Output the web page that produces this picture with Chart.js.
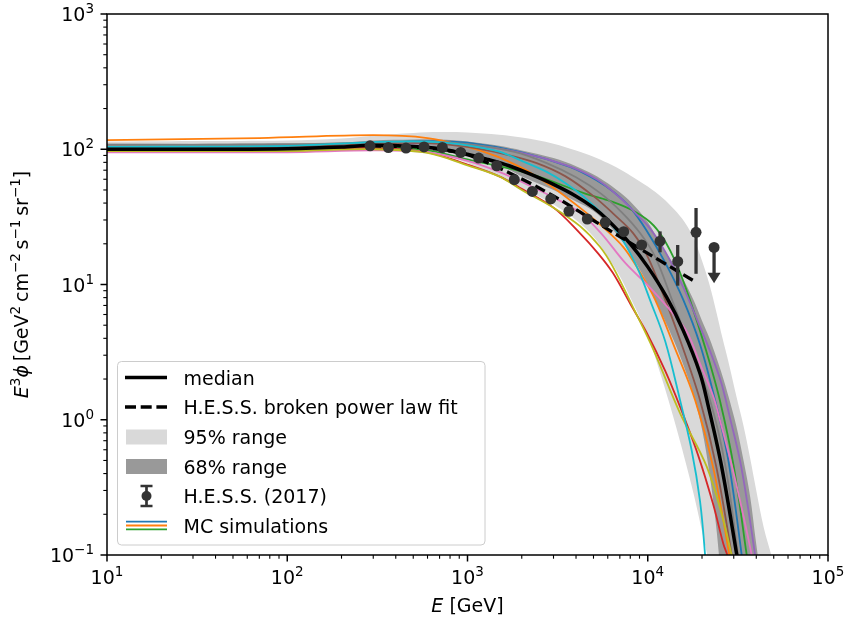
<!DOCTYPE html>
<html>
<head>
<meta charset="utf-8">
<script src="https://cdn.jsdelivr.net/npm/chart.js@4.4.1/dist/chart.umd.min.js"></script>
<style>
  html, body { margin: 0; background: #fff; }
  canvas { display: block; }
</style>
</head>
<body>
<canvas id="chart" width="850" height="621"></canvas>
<script>
// energy grid shared by the two percentile bands [GeV]
const bandE = [10, 30, 100, 200, 300, 500, 700, 1000, 1500, 2000, 3000, 4000, 5000, 6000, 7000, 8000,
  10000, 12000, 14000, 16000, 18000, 20000, 22000, 24000, 26000, 28000, 31000, 34000, 37000, 40000, 44000, 50000, 56000];
const hi95 = [114, 115, 116, 120, 126, 132, 134, 133, 128, 122, 110, 98, 88, 79, 71, 64,
  53, 44, 36, 29, 22, 15, 10, 6.3, 4.0, 2.7, 1.5, 0.9, 0.52, 0.3, 0.16, 0.085, 0.04];
const lo95 = [96, 96, 96, 97, 99, 97, 92, 79, 63, 52, 39, 30, 22.5, 16, 11.5, 8,
  4.2, 2.0, 1.0, 0.52, 0.28, 0.15, 0.085, 0.05, 0.03, 0.02, 0.01, 0.01, 0.01, 0.01, 0.01, 0.01, 0.01];
const hi68 = [110, 110, 111, 112, 116, 118, 118, 114, 106, 98, 86, 75, 65, 56, 48, 41,
  29, 19, 14, 10.5, 7.6, 5.4, 4.0, 2.9, 2.1, 1.5, 0.9, 0.5, 0.27, 0.12, 0.05, 0.02, 0.01];
const lo68 = [100, 100, 100, 102, 104, 102, 97, 88, 76, 63, 50, 41, 35, 28, 22, 17,
  10, 6.0, 3.8, 2.4, 1.5, 0.85, 0.4, 0.16, 0.05, 0.02, 0.01, 0.01, 0.01, 0.01, 0.01, 0.01, 0.01];

// median of the simulations
const medianE = [10, 20, 50, 100, 200, 300, 500, 700, 1000, 1300, 1700, 2200, 3000, 4000, 5000, 6000, 8000,
  10000, 12700, 15700, 19500, 21700, 25700, 31200, 34000];
const medianF = [100, 100, 100, 101, 104, 107, 105, 101, 92, 84, 75.5, 66, 55, 45, 37, 30, 20,
  13.5, 8.1, 4.6, 2.2, 1.25, 0.45, 0.1, 0.05];

// H.E.S.S. broken power law
const fitE = [288, 400, 600, 800, 1000, 1300, 1700, 2200, 2800, 3400, 5200, 8000, 12000, 18300];
const fitF = [106, 105, 102, 97, 91, 79, 67, 56.5, 47.5, 41, 28.8, 20.3, 14.7, 10.5];

// H.E.S.S. (2017) points, last one is an upper limit
const hessE = [288, 364, 456, 574, 725, 917, 1154, 1452, 1819, 2290, 2896, 3656, 4620, 5809, 7354, 9250, 11700, 14660, 18530, 23330];
const hessF = [106, 103, 102, 104, 103, 94.7, 86, 75.5, 59.6, 48.8, 42.9, 34.8, 30.5, 28.8, 24.6, 19.6, 20.9, 14.8, 24.3, 18.8];
const hessHi = [110, 107, 106, 108, 107, 98.5, 89.4, 78.5, 62, 50.8, 44.6, 36.2, 31.7, 30.2, 26, 20.9, 24.7, 19.6, 36.8, 18.8];
const hessLo = [102, 99, 98, 100, 99, 91, 82.6, 72.5, 57.2, 46.8, 41.2, 33.4, 29.3, 27.4, 23.2, 18.3, 17.3, 9.8, 12.0, 10.2];
const hessUL = [false, false, false, false, false, false, false, false, false, false,
  false, false, false, false, false, false, false, false, false, true];

// individual MC realisations
const mcBlueE = [10, 100, 300, 600, 1000, 2000, 3700, 5200, 6500, 8000, 9865, 12500, 15750, 19500, 23610, 28000, 33210, 36000];
const mcBlueF = [104, 105, 111, 115, 112, 95, 74, 59, 48, 37, 25, 14.5, 7.7, 3.6, 1.4, 0.5, 0.1, 0.04];
const mcOrangeE = [10, 70, 300, 600, 1000, 1400, 1800, 2200, 3000, 4200, 5400, 7300, 9000, 11000, 14000, 18300, 23000, 28350, 30500];
const mcOrangeF = [117, 121, 127, 121, 104, 90, 78, 68, 52, 37, 28, 19, 12.5, 7.7, 3.5, 1.4, 0.45, 0.1, 0.05];
const mcGreenE = [10, 100, 300, 600, 1000, 2200, 4500, 6000, 8000, 10290, 12190, 14500, 17140, 21000, 25100, 30000, 35400, 38000];
const mcGreenF = [101, 101, 104, 98, 84, 66, 47, 42, 36, 29, 22, 14, 7.7, 3.3, 1.4, 0.45, 0.1, 0.05];
const mcRedE = [10, 100, 300, 600, 1000, 1500, 2000, 3000, 4200, 5300, 6400, 8000, 9865, 12500, 15100, 19000, 23000, 26300, 27600, 30000];
const mcRedF = [100, 100, 102, 95, 77, 63, 51, 37, 24, 17, 12.2, 7.2, 4.4, 2.3, 1.25, 0.55, 0.24, 0.12, 0.1, 0.06];
const mcPurpleE = [10, 100, 300, 600, 1000, 2000, 3550, 5200, 7000, 8500, 10290, 12500, 15700, 19000, 22200, 25500, 28500, 33000, 39400, 42000];
const mcPurpleF = [102, 103, 108, 111, 108, 94, 76, 60, 44, 34, 26, 17.5, 9.6, 5.3, 3.2, 1.9, 1.05, 0.45, 0.1, 0.05];
const mcBrownE = [10, 100, 300, 600, 1000, 1600, 2420, 3500, 5000, 6500, 8290, 10000, 12500, 15000, 19490, 24000, 29230, 31500];
const mcBrownF = [103, 104, 110, 111, 104, 92, 79, 63, 45, 33, 24, 16, 7.7, 4.0, 1.4, 0.45, 0.1, 0.05];
const mcPinkE = [10, 100, 300, 600, 1000, 1500, 2200, 3000, 4200, 5500, 7480, 10290, 13270, 16440, 19490, 23120, 25100, 30000, 37730, 40000];
const mcPinkF = [95, 95, 98, 95, 82, 68, 54, 44, 34, 24, 14.5, 9.5, 6.5, 4.5, 2.6, 1.48, 1.0, 0.4, 0.1, 0.06];
const mcGrayE = [10, 100, 300, 600, 1000, 1800, 2750, 4000, 5500, 7200, 9060, 11000, 13630, 17000, 22140, 27000, 31680, 34000];
const mcGrayF = [108, 108, 112, 114, 109, 96, 79, 62, 47, 34, 24, 16, 7.7, 3.6, 1.4, 0.45, 0.1, 0.05];
const mcOliveE = [10, 100, 300, 600, 1000, 1500, 2000, 3000, 4210, 5430, 6410, 8280, 10740, 15100, 21240, 26300, 29200, 32000];
const mcOliveF = [97, 97, 100, 94, 76, 63, 50, 37, 27, 19, 13.5, 6.8, 3.3, 1.12, 0.45, 0.18, 0.1, 0.06];
const mcCyanE = [10, 100, 300, 600, 1000, 1500, 2000, 2750, 3500, 4560, 6000, 7000, 8000, 9060, 10290, 12500, 15100, 17500, 19500, 20800, 21500];
const mcCyanF = [104, 106, 113, 114, 107, 96, 82, 68, 56, 43, 30, 23, 17, 12, 7.7, 3.8, 1.4, 0.6, 0.25, 0.1, 0.05];

const mcRuns = [
  [mcBlueE, mcBlueF, '#1f77b4'],
  [mcOrangeE, mcOrangeF, '#ff7f0e'],
  [mcGreenE, mcGreenF, '#2ca02c'],
  [mcRedE, mcRedF, '#d62728'],
  [mcPurpleE, mcPurpleF, '#9467bd'],
  [mcBrownE, mcBrownF, '#8c564b'],
  [mcPinkE, mcPinkF, '#e377c2'],
  [mcGrayE, mcGrayF, '#7f7f7f'],
  [mcOliveE, mcOliveF, '#bcbd22'],
  [mcCyanE, mcCyanF, '#17becf'],
];

const LIGHT = '#d9d9d9';
const DARK = '#999999';
const HESS_COLOR = '#333333';
const FONT = '"DejaVu Sans", sans-serif';

const pts = (xs, ys) => xs.map((v, i) => ({ x: v, y: ys[i] }));

const datasets = [
  { data: pts(bandE, lo95), borderWidth: 0, pointRadius: 0, order: 41 },
  { data: pts(bandE, hi95), borderWidth: 0, pointRadius: 0, fill: 0, backgroundColor: LIGHT, order: 40 },
  { data: pts(bandE, lo68), borderWidth: 0, pointRadius: 0, order: 31 },
  { data: pts(bandE, hi68), borderWidth: 0, pointRadius: 0, fill: 2, backgroundColor: DARK, order: 30 },
];
mcRuns.forEach(([e, f, c], i) => {
  datasets.push({ data: pts(e, f), borderColor: c, borderWidth: 1.8, pointRadius: 0, order: 20 - i });
});
datasets.push({ data: pts(medianE, medianF), borderColor: '#000', borderWidth: 3.5, pointRadius: 0, order: 5 });
datasets.push({ data: pts(fitE, fitF), borderColor: '#000', borderWidth: 3.3, borderDash: [11, 4.7], pointRadius: 0, order: 4 });
const HESS_INDEX = datasets.length;
datasets.push({
  data: pts(hessE, hessF), showLine: false, pointRadius: 5.5, pointBorderWidth: 0,
  pointBackgroundColor: HESS_COLOR, order: 0
});

// error bars and the upper-limit arrow, drawn just under the markers
const hessBars = {
  id: 'hessBars',
  beforeDatasetDraw(chart, args) {
    if (args.index !== HESS_INDEX) return;
    const { ctx, scales: { x, y } } = chart;
    ctx.save();
    ctx.strokeStyle = HESS_COLOR;
    ctx.fillStyle = HESS_COLOR;
    ctx.lineWidth = 3.3;
    hessE.forEach((e, i) => {
      const px = x.getPixelForValue(e);
      const pLo = y.getPixelForValue(hessLo[i]);
      if (hessUL[i]) {
        const p0 = y.getPixelForValue(hessF[i]);
        ctx.beginPath(); ctx.moveTo(px, p0); ctx.lineTo(px, pLo - 9); ctx.stroke();
        ctx.beginPath();
        ctx.moveTo(px - 6.5, pLo - 10.5); ctx.lineTo(px + 6.5, pLo - 10.5); ctx.lineTo(px, pLo);
        ctx.closePath(); ctx.fill();
      } else {
        const pHi = y.getPixelForValue(hessHi[i]);
        ctx.beginPath(); ctx.moveTo(px, pHi); ctx.lineTo(px, pLo); ctx.stroke();
      }
    });
    ctx.restore();
  }
};

// draws 10^exp with a raised exponent
function drawPow(ctx, exp, xPos, yBase, align) {
  const base = '10';
  const sup = String(exp).replace('-', '\u2212');
  ctx.font = '19px ' + FONT;
  const wb = ctx.measureText(base).width;
  ctx.font = '13.5px ' + FONT;
  const ws = ctx.measureText(sup).width;
  const x0 = align === 'center' ? xPos - (wb + ws) / 2 : xPos - (wb + ws);
  ctx.font = '19px ' + FONT;
  ctx.fillText(base, x0, yBase);
  ctx.font = '13.5px ' + FONT;
  ctx.fillText(sup, x0 + wb, yBase - 8);
}

// text made of runs [string, font, rise], centred on cx
function drawRuns(ctx, runs, cx, yBase) {
  let total = 0;
  runs.forEach(r => { ctx.font = r[1]; total += ctx.measureText(r[0]).width; });
  let xp = cx - total / 2;
  runs.forEach(r => {
    ctx.font = r[1];
    ctx.fillText(r[0], xp, yBase - (r[2] || 0));
    xp += ctx.measureText(r[0]).width;
  });
}

const frameAndText = {
  id: 'frameAndText',
  afterDraw(chart) {
    const { ctx, chartArea: a, scales: { x, y } } = chart;
    ctx.save();
    ctx.strokeStyle = '#000';
    ctx.fillStyle = '#000';
    ctx.textAlign = 'left';
    ctx.textBaseline = 'alphabetic';

    // ticks
    for (let d = 1; d <= 5; d++) {
      for (let k = 1; k <= 9; k++) {
        const v = k * Math.pow(10, d);
        if (v > 1e5) break;
        const px = x.getPixelForValue(v);
        const len = k === 1 ? 6.5 : 3.7;
        ctx.lineWidth = k === 1 ? 1.5 : 1.1;
        ctx.beginPath(); ctx.moveTo(px, a.bottom); ctx.lineTo(px, a.bottom + len); ctx.stroke();
      }
    }
    for (let d = -1; d <= 3; d++) {
      for (let k = 1; k <= 9; k++) {
        const v = k * Math.pow(10, d);
        if (v > 1000) break;
        const py = y.getPixelForValue(v);
        const len = k === 1 ? 6.5 : 3.7;
        ctx.lineWidth = k === 1 ? 1.5 : 1.1;
        ctx.beginPath(); ctx.moveTo(a.left, py); ctx.lineTo(a.left - len, py); ctx.stroke();
      }
    }
    for (let d = 1; d <= 5; d++) drawPow(ctx, d, x.getPixelForValue(Math.pow(10, d)), 584, 'center');
    for (let d = -1; d <= 3; d++) drawPow(ctx, d, 94, y.getPixelForValue(Math.pow(10, d)) + 7, 'right');

    // frame
    ctx.lineWidth = 1.5;
    ctx.strokeRect(a.left, a.top, a.right - a.left, a.bottom - a.top);

    // axis titles
    const it = 'italic 19px ' + FONT, rm = '19px ' + FONT, sp = '13.5px ' + FONT;
    drawRuns(ctx, [['E', it], [' [GeV]', rm]], (a.left + a.right) / 2, 612);
    ctx.save();
    ctx.translate(28, (a.top + a.bottom) / 2);
    ctx.rotate(-Math.PI / 2);
    drawRuns(ctx, [
      ['E', it], ['3', sp, 8], ['\u03d5', it], ['\u2009[GeV', rm], ['2', sp, 8],
      ['\u2009cm', rm], ['\u22122', sp, 8], ['\u2009s', rm], ['\u22121', sp, 8],
      ['\u2009sr', rm], ['\u22121', sp, 8], [']', rm]
    ], 0, 0);
    ctx.restore();

    // legend
    ctx.fillStyle = 'rgba(255,255,255,0.8)';
    ctx.strokeStyle = '#cccccc';
    ctx.lineWidth = 1;
    ctx.beginPath();
    ctx.roundRect(117.5, 361.5, 367.5, 183.5, 4);
    ctx.fill(); ctx.stroke();

    const hx0 = 125, hx1 = 167, tx = 183.5;
    const rows = [377.5, 407, 437, 466.5, 496, 525.5];
    const labels = ['median', 'H.E.S.S. broken power law fit', '95% range', '68% range', 'H.E.S.S. (2017)', 'MC simulations'];

    ctx.strokeStyle = '#000';
    ctx.lineWidth = 3.5;
    ctx.beginPath(); ctx.moveTo(hx0, rows[0]); ctx.lineTo(hx1, rows[0]); ctx.stroke();
    ctx.lineWidth = 3.3;
    ctx.setLineDash([11, 4.7]);
    ctx.beginPath(); ctx.moveTo(hx0, rows[1]); ctx.lineTo(hx1, rows[1]); ctx.stroke();
    ctx.setLineDash([]);
    ctx.fillStyle = LIGHT; ctx.fillRect(126, rows[2] - 7.5, 41, 15);
    ctx.fillStyle = DARK; ctx.fillRect(126, rows[3] - 7.5, 41, 15);

    const ex = 146.5, ey = rows[4];
    ctx.strokeStyle = HESS_COLOR; ctx.fillStyle = HESS_COLOR; ctx.lineWidth = 2.7;
    ctx.beginPath();
    ctx.moveTo(ex, ey - 10); ctx.lineTo(ex, ey + 10);
    ctx.moveTo(ex - 6, ey - 10); ctx.lineTo(ex + 6, ey - 10);
    ctx.moveTo(ex - 6, ey + 10); ctx.lineTo(ex + 6, ey + 10);
    ctx.stroke();
    ctx.beginPath(); ctx.arc(ex, ey, 5, 0, Math.PI * 2); ctx.fill();

    ctx.lineWidth = 1.8;
    [['#1f77b4', -3.8], ['#ff7f0e', 0], ['#2ca02c', 3.8]].forEach(([c, dy]) => {
      ctx.strokeStyle = c;
      ctx.beginPath(); ctx.moveTo(126, rows[5] + dy); ctx.lineTo(167, rows[5] + dy); ctx.stroke();
    });

    ctx.fillStyle = '#000';
    ctx.font = '19px ' + FONT;
    labels.forEach((t, i) => ctx.fillText(t, tx, rows[i] + 7));
    ctx.restore();
  }
};

new Chart(document.getElementById('chart'), {
  type: 'line',
  data: { datasets },
  options: {
    responsive: false,
    animation: false,
    devicePixelRatio: 1,
    layout: { padding: { left: 107, right: 22, top: 14, bottom: 66 } },
    elements: { line: { tension: 0.35, fill: false } },
    plugins: { legend: { display: false }, tooltip: { enabled: false } },
    scales: {
      x: { type: 'logarithmic', min: 10, max: 1e5, display: false },
      y: { type: 'logarithmic', min: 0.1, max: 1000, display: false }
    }
  },
  plugins: [hessBars, frameAndText]
});
</script>
</body>
</html>
